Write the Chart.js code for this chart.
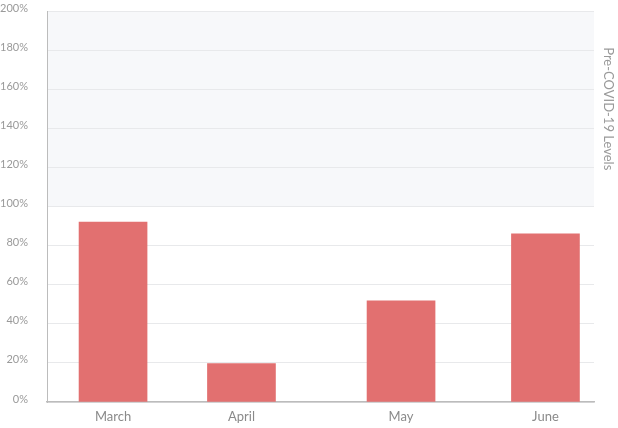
<!DOCTYPE html>
<html lang="en">
  <head>
    <meta charset="UTF-8" />
    <title>Pre-COVID-19 Levels</title>
    <script src="https://cdn.jsdelivr.net/npm/chart.js"></script>
    <style>
      html, body {
        margin: 0;
        padding: 0;
        background: #ffffff;
      }
      #wrap {
        width: 618px;
        height: 428px;
      }
    </style>
  </head>
  <body>
    <div id="wrap"><canvas id="levelChart"></canvas></div>
    <script>
      // month labels and where they sit on the (uneven) x axis
      const months = ["March", "April", "May", "June"];
      const monthPos = [0.483, 1.422, 2.589, 3.645];
      // share of pre-COVID-19 level, in %
      const levels = [92, 19.6, 51.8, 86];
      const yTicks = [0, 20, 40, 60, 80, 100, 120, 140, 160, 180, 200];

      const bandFrom = 100;
      const bandTo = 200;
      const bandLabel = "Pre-COVID-19 Levels";

      // light band over the 100-200% range plus its label on the right
      const bandPlugin = {
        id: "preCovidBand",
        beforeDraw(chart) {
          const { ctx, chartArea, scales } = chart;
          const top = scales.y.getPixelForValue(bandTo);
          const bottom = scales.y.getPixelForValue(bandFrom);
          ctx.save();
          ctx.fillStyle = "#f7f8fa";
          ctx.fillRect(chartArea.left, top, chartArea.right - chartArea.left, bottom - top);
          ctx.restore();
        },
        afterDraw(chart) {
          const { ctx, chartArea, scales } = chart;
          const mid = scales.y.getPixelForValue((bandFrom + bandTo) / 2);
          ctx.save();
          ctx.translate(chartArea.right + 14, mid);
          ctx.rotate(Math.PI / 2);
          ctx.font = "13px Lato";
          ctx.fillStyle = "#9a9a9a";
          ctx.textAlign = "center";
          ctx.textBaseline = "middle";
          ctx.fillText(bandLabel, 0, 0);
          ctx.restore();
        },
      };

      const ctx = document.getElementById("levelChart").getContext("2d");
      const levelChart = new Chart(ctx, {
        type: "bar",
        data: {
          datasets: [
            {
              data: monthPos.map((x, i) => ({ x: x, y: levels[i] })),
              backgroundColor: "#e27070",
              borderWidth: 0,
              barThickness: 68,
            },
          ],
        },
        options: {
          responsive: true,
          maintainAspectRatio: false,
          animation: false,
          layout: {
            padding: { top: 11, right: 24, bottom: 0, left: 0 },
          },
          plugins: {
            legend: { display: false },
            tooltip: { enabled: false },
          },
          scales: {
            x: {
              type: "linear",
              min: 0,
              max: 4,
              offset: false,
              grid: { display: false, drawTicks: false, offset: false },
              border: { display: true, color: "#bcbcbc", width: 1.5 },
              afterBuildTicks(scale) {
                scale.ticks = monthPos.map((v) => ({ value: v }));
              },
              afterFit(scale) {
                scale.height = 26;
                scale.paddingLeft = 0;
                scale.paddingRight = 0;
              },
              ticks: {
                autoSkip: false,
                maxRotation: 0,
                padding: 7,
                color: "#8a8a8a",
                font: { family: "Lato", size: 13 },
                callback: (v, i) => months[i],
              },
            },
            y: {
              min: 0,
              max: 200,
              grid: { color: "#e8e9eb", drawTicks: false },
              border: { display: true, color: "#bcbcbc", width: 1 },
              afterBuildTicks(scale) {
                scale.ticks = yTicks.map((v) => ({ value: v }));
              },
              afterFit(scale) {
                scale.width = 47;
                scale.paddingTop = 0;
                scale.paddingBottom = 0;
              },
              ticks: {
                padding: 19,
                labelOffset: -3,
                color: "#9a9a9a",
                font: { family: "Lato", size: 11 },
                callback: (v) => v + "%",
              },
            },
          },
        },
        plugins: [bandPlugin],
      });
    </script>
  </body>
</html>
